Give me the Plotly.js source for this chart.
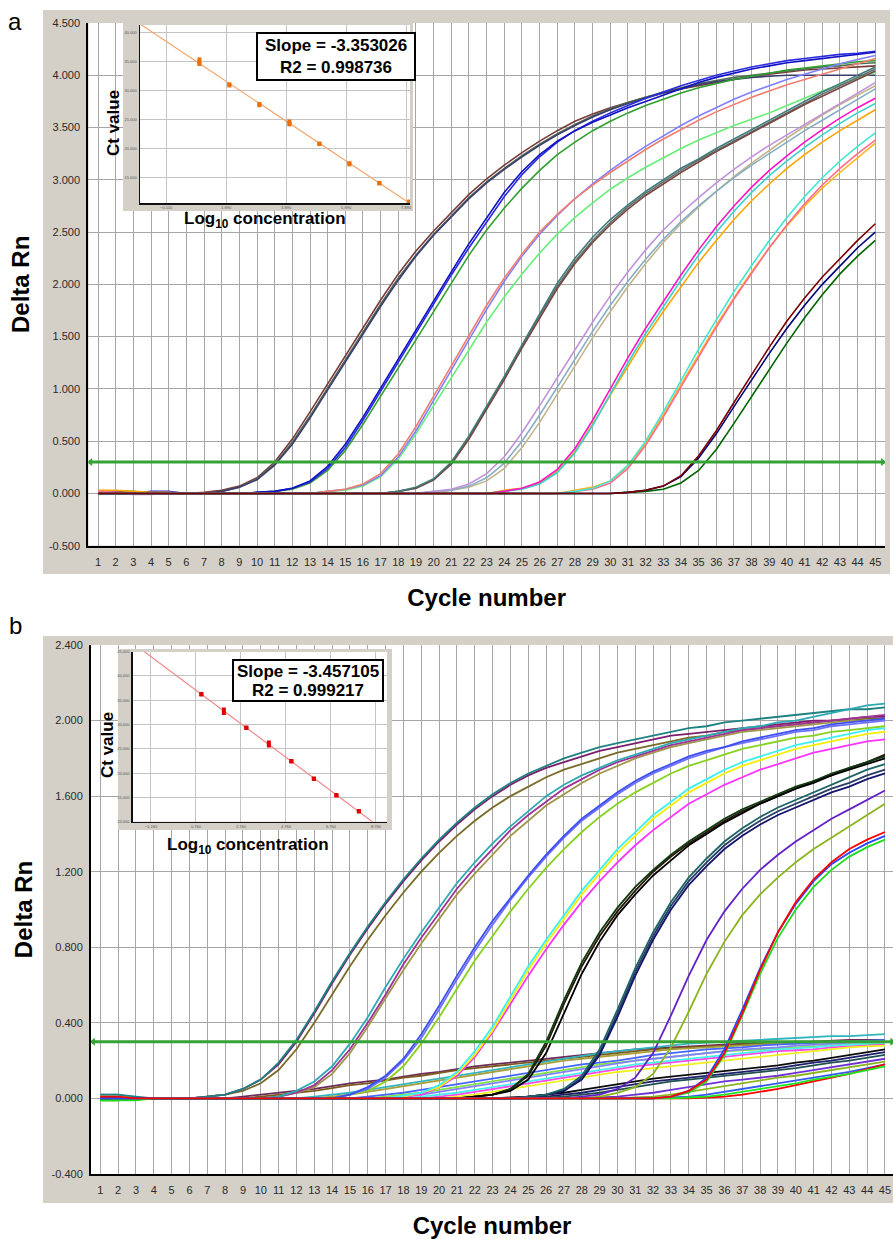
<!DOCTYPE html>
<html><head><meta charset="utf-8">
<script src="https://cdn.plot.ly/plotly-3.0.1.min.js"></script>
<style>html,body{margin:0;padding:0;background:#fff;overflow:hidden}#chart{width:893px;height:1239px}</style>
</head><body><div id="chart"></div>
<script>
// ---------------- DATA ----------------
const cycles = [1,2,3,4,5,6,7,8,9,10,11,12,13,14,15,16,17,18,19,20,21,22,23,24,25,26,27,28,29,30,31,32,33,34,35,36,37,38,39,40,41,42,43,44,45];
const thresholdA = 0.3;
const thresholdB = 0.3;
const yTickValsA = [-0.5,0,0.5,1,1.5,2,2.5,3,3.5,4,4.5];
const yTickTextA = ['-0.500','0.000','0.500','1.000','1.500','2.000','2.500','3.000','3.500','4.000','4.500'];
const yTickValsB = [-0.4,0,0.4,0.8,1.2,1.6,2.0,2.4];
const yTickTextB = ['-0.400','0.000','0.400','0.800','1.200','1.600','2.000','2.400'];

// Panel a amplification curves (Delta Rn per cycle)
const aBrown1 = [0.01,0.01,0,0,0,0,0.01,0.03,0.07,0.15,0.30,0.52,0.78,1.05,1.32,1.59,1.85,2.10,2.32,2.51,2.69,2.86,3.01,3.14,3.26,3.37,3.47,3.56,3.63,3.69,3.74,3.79,3.83,3.87,3.90,3.93,3.96,3.99,4.01,4.03,4.05,4.06,4.07,4.08,4.09];
const aSlate1 = [0,0,0,0,0,0,0,0.02,0.06,0.13,0.27,0.47,0.72,0.99,1.26,1.53,1.79,2.04,2.27,2.47,2.65,2.82,2.97,3.10,3.22,3.33,3.43,3.52,3.60,3.67,3.73,3.78,3.83,3.87,3.91,3.94,3.96,3.98,3.99,4.00,4.00,4.00,4.00,4.00,4.00];
const aGreen1 = [0,0.02,0.02,0,0,0,0,0.02,0.06,0.14,0.28,0.49,0.74,1.01,1.28,1.55,1.81,2.06,2.28,2.48,2.66,2.83,2.98,3.11,3.23,3.34,3.44,3.53,3.61,3.68,3.74,3.79,3.84,3.88,3.92,3.95,3.98,4.00,4.02,4.04,4.06,4.08,4.09,4.11,4.12];
const aBlue2 = [0,0,0,0,0,0,0,0,0,0.01,0.02,0.05,0.12,0.26,0.47,0.73,1.01,1.29,1.57,1.85,2.12,2.39,2.64,2.88,3.08,3.24,3.37,3.47,3.55,3.62,3.69,3.75,3.81,3.87,3.93,3.98,4.02,4.06,4.09,4.12,4.14,4.16,4.18,4.20,4.22];
const aBlueB2 = [0,0,0,0.02,0.02,0,0,0,0,0.01,0.02,0.05,0.11,0.24,0.44,0.70,0.98,1.26,1.54,1.82,2.09,2.35,2.60,2.84,3.05,3.22,3.36,3.47,3.56,3.64,3.71,3.78,3.84,3.90,3.95,4.00,4.04,4.08,4.11,4.14,4.16,4.18,4.20,4.21,4.23];
const aGreen2 = [0,0,0,0,0,0,0,0,0,0.01,0.02,0.04,0.10,0.22,0.41,0.66,0.93,1.20,1.47,1.74,2.01,2.28,2.52,2.73,2.92,3.09,3.24,3.36,3.47,3.56,3.64,3.71,3.77,3.83,3.88,3.92,3.96,3.99,4.02,4.05,4.07,4.09,4.11,4.13,4.14];
const aSalmon3 = [0,0,0,0,0,0,0,0,0,0,0,0,0,0.02,0.04,0.09,0.19,0.38,0.64,0.93,1.22,1.51,1.80,2.06,2.29,2.50,2.67,2.82,2.95,3.07,3.18,3.29,3.39,3.48,3.57,3.65,3.72,3.79,3.85,3.91,3.96,4.01,4.06,4.11,4.16];
const aPeri3 = [0,0,0,0,0,0,0,0,0,0,0,0,0,0.02,0.04,0.08,0.17,0.35,0.60,0.89,1.18,1.47,1.76,2.03,2.27,2.48,2.66,2.82,2.96,3.09,3.21,3.32,3.42,3.52,3.61,3.69,3.77,3.84,3.90,3.96,4.01,4.06,4.11,4.15,4.19];
const aLgreen3 = [0,0,0,0,0,0,0,0,0,0,0,0,0,0.02,0.03,0.07,0.16,0.33,0.57,0.84,1.11,1.38,1.64,1.88,2.10,2.30,2.48,2.64,2.78,2.91,3.02,3.12,3.21,3.30,3.38,3.45,3.52,3.58,3.64,3.71,3.78,3.85,3.91,3.97,4.03];
const aTeal4 = [0,0,0,0,0,0,0,0,0,0,0,0,0,0,0,0,0,0.02,0.06,0.14,0.30,0.55,0.83,1.12,1.42,1.72,2.01,2.25,2.45,2.62,2.76,2.89,3.00,3.11,3.20,3.30,3.39,3.48,3.57,3.66,3.75,3.84,3.92,4.00,4.08];
const aBrown4 = [0,0,0,0,0,0,0,0,0,0,0,0,0,0,0,0,0,0.02,0.05,0.13,0.28,0.52,0.80,1.09,1.39,1.68,1.96,2.20,2.40,2.57,2.72,2.85,2.96,3.07,3.17,3.27,3.36,3.45,3.54,3.63,3.72,3.80,3.88,3.96,4.04];
const aGray4 = [0,0,0,0,0,0,0,0,0,0,0,0,0,0,0,0,0,0.02,0.05,0.13,0.29,0.53,0.81,1.10,1.40,1.70,1.98,2.22,2.42,2.59,2.74,2.87,2.98,3.09,3.19,3.28,3.37,3.46,3.55,3.64,3.73,3.82,3.90,3.98,4.06];
const aLav5 = [0,0,-0.01,-0.01,0,0,0,0,0,0,0,0,0,0,0,0,0,0,0,0.02,0.04,0.09,0.19,0.35,0.58,0.84,1.11,1.38,1.64,1.89,2.12,2.33,2.52,2.68,2.83,2.97,3.10,3.22,3.33,3.43,3.53,3.63,3.73,3.83,3.93];
const aGb5 = [0,0,0,0,0,0,0,0,0,0,0,0,0,0,0,0,0,0,0,0.02,0.03,0.07,0.15,0.29,0.50,0.75,1.02,1.29,1.55,1.80,2.03,2.24,2.43,2.60,2.75,2.89,3.02,3.14,3.25,3.36,3.47,3.57,3.67,3.77,3.87];
const aTan5 = [0,0,0,0,0,0,0,0,0,0,0,0,0,0,0,0,0,0,0,0,0.03,0.06,0.12,0.24,0.44,0.68,0.95,1.22,1.49,1.74,1.98,2.20,2.40,2.58,2.74,2.89,3.03,3.16,3.28,3.40,3.51,3.62,3.72,3.81,3.90];
const aMag6 = [0.01,0.01,0,0,0,0,0,0,0,0,0,0,0,0,0,0,0,0,0,0,0,0,0,0.02,0.05,0.11,0.23,0.43,0.70,1.00,1.30,1.58,1.84,2.09,2.33,2.55,2.75,2.93,3.09,3.23,3.36,3.48,3.59,3.69,3.78];
const aTurq6 = [0,0,0,0,0,0,0,0,0,0,0,0,0,0,0,0,0,0,0,0,0,0,0,0.02,0.04,0.09,0.20,0.39,0.65,0.95,1.25,1.53,1.79,2.04,2.28,2.50,2.70,2.88,3.04,3.18,3.31,3.43,3.54,3.64,3.73];
const aOrange6 = [0.03,0.03,0.02,0.01,0.01,0,0,0,0,0,0,0,0,0,0,0,0,0,0,0,0,0,0,0.03,0.05,0.10,0.21,0.40,0.66,0.94,1.22,1.49,1.74,1.98,2.21,2.42,2.62,2.80,2.96,3.11,3.24,3.36,3.47,3.57,3.67];
const aTurq7 = [0,0,0,0,0,0,0,0,0,0,0,0,0,0,0,0,0,0,0,0,0,0,0,0,0,0,0,0.02,0.05,0.12,0.27,0.50,0.78,1.08,1.38,1.66,1.93,2.18,2.42,2.64,2.84,3.02,3.18,3.32,3.45];
const aPink7 = [0.02,0.01,0,0,0,0,0,0,0,0,0,0,0,0,0,0,0,0,0,0,0,0,0,0,0,0,0,0.02,0.04,0.10,0.24,0.46,0.73,1.02,1.31,1.59,1.86,2.11,2.35,2.57,2.77,2.95,3.11,3.25,3.38];
const aOrange7 = [0,0,0,0,0,0,0,0,0,0,0,0,0,0,0,0,0,0,0,0,0,0,0,0,0,0,0,0.03,0.06,0.12,0.26,0.48,0.75,1.04,1.33,1.61,1.87,2.12,2.35,2.56,2.75,2.92,3.07,3.21,3.35];
const aRed8 = [0,0,0,0,0,0,0,0,0,0,0,0,0,0,0,0,0,0,0,0,0,0,0,0,0,0,0,0,0,0,0.01,0.03,0.07,0.17,0.36,0.60,0.87,1.14,1.40,1.65,1.87,2.07,2.25,2.42,2.58];
const aNavy8 = [0,0,0,0,0,0,0,0,0,0,0,0,0,0,0,0,0,0,0,0,0,0,0,0,0,0,0,0,0,0,0.01,0.03,0.07,0.16,0.34,0.57,0.83,1.09,1.34,1.58,1.80,2.00,2.18,2.35,2.50];
const aGreen8 = [0,0,0,0,0,0,0,0,0,0,0,0,0,0,0,0,0,0,0,0,0,0,0,0,0,0,0,0,0,0,0.01,0.02,0.04,0.10,0.22,0.42,0.67,0.93,1.19,1.44,1.68,1.90,2.10,2.27,2.42];

// Panel b amplification curves
const bTeal1 = [0.02,0.02,0.01,0,0,0,0.01,0.02,0.05,0.10,0.19,0.31,0.46,0.62,0.77,0.91,1.04,1.16,1.27,1.37,1.46,1.54,1.61,1.67,1.72,1.76,1.80,1.83,1.86,1.88,1.90,1.92,1.94,1.96,1.97,1.99,2.00,2.01,2.02,2.03,2.04,2.05,2.06,2.06,2.07];
const bPurple1 = [0,0,0,0,0,0,0.01,0.02,0.05,0.10,0.18,0.30,0.45,0.61,0.76,0.90,1.03,1.15,1.26,1.36,1.45,1.53,1.60,1.66,1.71,1.75,1.78,1.81,1.84,1.86,1.88,1.90,1.92,1.93,1.94,1.95,1.96,1.97,1.98,1.99,2.00,2.00,2.01,2.02,2.02];
const bOlive1 = [0,0,0,0,0,0,0.01,0.02,0.04,0.08,0.15,0.26,0.40,0.55,0.70,0.84,0.97,1.09,1.20,1.30,1.39,1.47,1.54,1.60,1.65,1.70,1.74,1.77,1.80,1.83,1.85,1.87,1.89,1.91,1.92,1.94,1.95,1.96,1.97,1.98,1.99,2.00,2.00,2.01,2.01];
const bCyan2 = [0,0,0,0,0,0,0,0,0,0,0.01,0.04,0.09,0.17,0.29,0.43,0.59,0.74,0.88,1.01,1.14,1.25,1.35,1.44,1.52,1.60,1.66,1.71,1.75,1.79,1.82,1.85,1.88,1.90,1.92,1.94,1.96,1.97,1.99,2.00,2.02,2.04,2.06,2.08,2.09];
const bPurple2 = [0,0,0,0,0,0,0,0,0,0,0.01,0.03,0.07,0.15,0.26,0.40,0.55,0.71,0.85,0.98,1.11,1.22,1.32,1.42,1.50,1.57,1.64,1.69,1.74,1.78,1.81,1.84,1.87,1.89,1.91,1.93,1.95,1.96,1.97,1.98,1.99,2.00,2.01,2.02,2.03];
const bOlive2 = [0,0,0,0,0,0,0,0,0,0,0.01,0.03,0.06,0.13,0.24,0.38,0.53,0.68,0.82,0.95,1.08,1.19,1.29,1.39,1.47,1.55,1.61,1.67,1.72,1.76,1.80,1.83,1.86,1.88,1.90,1.92,1.94,1.95,1.96,1.97,1.98,1.99,2.00,2.00,2.01];
const bBlue3 = [0,0,0,0,0,0,0,0,0,0,0,0,0,0,0.02,0.06,0.12,0.21,0.34,0.49,0.65,0.80,0.94,1.06,1.18,1.29,1.39,1.48,1.55,1.62,1.68,1.73,1.77,1.81,1.84,1.86,1.89,1.91,1.93,1.95,1.96,1.98,1.99,2.00,2.01];
const bPeri3 = [0,0,0,0,0,0,0,0,0,0,0,0,0,0,0.02,0.05,0.11,0.20,0.32,0.47,0.63,0.78,0.92,1.05,1.17,1.28,1.38,1.47,1.54,1.61,1.67,1.72,1.76,1.80,1.83,1.86,1.88,1.90,1.92,1.94,1.95,1.97,1.98,1.99,2.00];
const bYg3 = [0,0,0,0,0,0,0,0,0,0,0,0,0,0,0.02,0.04,0.09,0.17,0.29,0.43,0.58,0.73,0.86,0.99,1.11,1.22,1.32,1.41,1.49,1.56,1.62,1.67,1.72,1.76,1.79,1.82,1.85,1.87,1.89,1.91,1.92,1.94,1.95,1.96,1.97];
const bCyan4 = [0,0,0,0,0,0,0,0,0,0,0,0,0,0,0,0,0,0.015,0.03,0.07,0.14,0.25,0.38,0.54,0.70,0.84,0.97,1.10,1.21,1.32,1.41,1.50,1.57,1.64,1.69,1.74,1.78,1.81,1.84,1.87,1.89,1.91,1.93,1.95,1.96];
const bYellow4 = [-0.01,-0.01,0,0,0,0,0,0,0,0,0,0,0,0,0,0,0,0.01,0.03,0.06,0.13,0.23,0.36,0.52,0.68,0.82,0.95,1.08,1.19,1.30,1.39,1.48,1.55,1.62,1.67,1.72,1.76,1.79,1.82,1.85,1.87,1.89,1.91,1.93,1.94];
const bMag4 = [0,0,0,0,0,0,0,0,0,0,0,0,0,0,0,0,0,0.01,0.02,0.06,0.12,0.22,0.35,0.50,0.65,0.79,0.92,1.04,1.15,1.25,1.34,1.42,1.49,1.56,1.61,1.66,1.70,1.74,1.77,1.80,1.83,1.85,1.87,1.89,1.90];
const bDkgreen5 = [0,0,0,0,0,0,0,0,0,0,0,0,0,0,0,0,0,0,0,0,0,0.01,0.02,0.05,0.13,0.30,0.52,0.72,0.88,1.01,1.12,1.21,1.29,1.36,1.42,1.48,1.53,1.57,1.61,1.65,1.68,1.72,1.75,1.78,1.81];
const bBlack5 = [0,0,0,0,0,0,0,0,0,0,0,0,0,0,0,0,0,0,0,0,0,0.01,0.02,0.04,0.10,0.24,0.45,0.66,0.83,0.97,1.08,1.18,1.26,1.34,1.40,1.46,1.51,1.56,1.60,1.64,1.67,1.71,1.74,1.77,1.80];
const bBrown5 = [0,0,0,0,0,0,0,0,0,0,0,0,0,0,0,0,0,0,0,0,0,0.01,0.02,0.05,0.12,0.28,0.50,0.70,0.86,0.99,1.10,1.20,1.28,1.35,1.41,1.47,1.52,1.56,1.60,1.64,1.68,1.71,1.75,1.78,1.82];
const bTeal6 = [0,0,0,0,0,0,0,0,0,0,0,0,0,0,0,0,0,0,0,0,0,0,0,0,0.01,0.02,0.05,0.12,0.26,0.47,0.69,0.88,1.04,1.17,1.27,1.36,1.43,1.49,1.54,1.58,1.62,1.66,1.70,1.74,1.77];
const bNavy6 = [0,0,0,0,0,0,0,0,0,0,0,0,0,0,0,0,0,0,0,0,0,0,0,0,0.01,0.02,0.04,0.10,0.23,0.43,0.65,0.84,1.00,1.13,1.23,1.32,1.39,1.45,1.50,1.54,1.58,1.62,1.65,1.69,1.72];
const bSlate6 = [0,0,0,0,0,0,0,0,0,0,0,0,0,0,0,0,0,0,0,0,0,0,0,0,0.01,0.02,0.04,0.11,0.24,0.45,0.67,0.86,1.02,1.15,1.25,1.34,1.41,1.47,1.52,1.56,1.60,1.64,1.67,1.71,1.74];
const bPurple7 = [0,0,0,0,0,0,0,0,0,0,0,0,0,0,0,0,0,0,0,0,0,0,0,0,0,0,0,0.01,0.02,0.05,0.11,0.24,0.44,0.65,0.84,0.99,1.11,1.21,1.29,1.36,1.42,1.48,1.53,1.58,1.63];
const bOlive7 = [0,0,0,0,0,0,0,0,0,0,0,0,0,0,0,0,0,0,0,0,0,0,0,0,0,0,0,0,0.01,0.03,0.06,0.13,0.27,0.46,0.66,0.83,0.97,1.08,1.17,1.25,1.32,1.38,1.44,1.50,1.56];
const bRed8 = [0.01,0.01,0,0,0,0,0,0,0,0,0,0,0,0,0,0,0,0,0,0,0,0,0,0,0,0,0,0,0,0,0,0,0.01,0.04,0.10,0.24,0.45,0.68,0.88,1.04,1.16,1.25,1.32,1.37,1.41];
const bBlue8 = [0,0,0,0,0,0,0,0,0,0,0,0,0,0,0,0,0,0,0,0,0,0,0,0,0,0,0,0,0,0,0,0,0.01,0.04,0.11,0.26,0.47,0.69,0.88,1.03,1.15,1.24,1.30,1.35,1.39];
const bGreen8 = [-0.01,-0.01,-0.01,0,0,0,0,0,0,0,0,0,0,0,0,0,0,0,0,0,0,0,0,0,0,0,0,0,0,0,0,0,0.01,0.03,0.09,0.23,0.44,0.66,0.85,1.00,1.12,1.21,1.28,1.33,1.37];

// Panel b slowly rising background curves
const bL1 = [0,0,0,0,0,0,0,0,0.01,0.02,0.03,0.04,0.05,0.065,0.08,0.09,0.10,0.115,0.13,0.14,0.155,0.17,0.18,0.19,0.20,0.21,0.22,0.23,0.24,0.25,0.26,0.265,0.27,0.275,0.28,0.285,0.29,0.29,0.295,0.30,0.30,0.305,0.31,0.31,0.31];
const bL2 = [0,0,0,0,0,0,0,0,0,0.01,0.02,0.03,0.04,0.055,0.07,0.08,0.095,0.11,0.12,0.135,0.15,0.16,0.17,0.18,0.19,0.20,0.21,0.22,0.23,0.24,0.25,0.26,0.265,0.27,0.275,0.28,0.285,0.29,0.29,0.295,0.30,0.30,0.30,0.305,0.31];
const bL3 = [0.02,0.02,0,0,0,0,0,0,0,0,0,0,0.01,0.02,0.03,0.045,0.06,0.075,0.09,0.105,0.12,0.135,0.15,0.165,0.18,0.195,0.21,0.225,0.24,0.25,0.26,0.27,0.28,0.29,0.295,0.30,0.305,0.31,0.315,0.32,0.325,0.33,0.33,0.335,0.34];
const bL4 = [0,0,0,0,0,0,0,0,0,0,0,0,0,0.01,0.02,0.035,0.05,0.065,0.08,0.095,0.11,0.125,0.14,0.155,0.17,0.185,0.20,0.21,0.22,0.23,0.24,0.25,0.26,0.265,0.27,0.275,0.28,0.285,0.29,0.29,0.295,0.30,0.30,0.30,0.305];
const bL5 = [0,0,0,0,0,0,0,0,0,0,0,0,0,0,0,0.01,0.02,0.03,0.045,0.06,0.075,0.09,0.105,0.12,0.135,0.15,0.165,0.18,0.19,0.20,0.215,0.23,0.24,0.25,0.26,0.265,0.27,0.28,0.285,0.29,0.295,0.30,0.30,0.305,0.31];
const bL6 = [0,0,0,0,0,0,0,0,0,0,0,0,0,0,0,0,0.01,0.02,0.03,0.045,0.06,0.075,0.09,0.105,0.12,0.135,0.15,0.165,0.18,0.19,0.20,0.21,0.22,0.23,0.24,0.25,0.255,0.26,0.265,0.27,0.275,0.28,0.285,0.285,0.29];
const bL7 = [0,0,0,0,0,0,0,0,0,0,0,0,0,0,0,0,0,0,0,0.01,0.02,0.035,0.05,0.065,0.08,0.095,0.11,0.125,0.14,0.155,0.17,0.18,0.19,0.20,0.21,0.22,0.23,0.24,0.25,0.255,0.26,0.27,0.275,0.28,0.285];
const bL8 = [0.01,0.01,0,0,0,0,0,0,0,0,0,0,0,0,0,0,0,0,0,0,0.01,0.02,0.035,0.05,0.065,0.08,0.095,0.11,0.125,0.14,0.15,0.16,0.17,0.18,0.19,0.20,0.21,0.22,0.23,0.24,0.25,0.26,0.27,0.275,0.28];
const bL9 = [0,0,0,0,0,0,0,0,0,0,0,0,0,0,0,0,0,0,0.01,0.02,0.03,0.045,0.06,0.075,0.09,0.105,0.12,0.135,0.15,0.165,0.18,0.19,0.20,0.21,0.22,0.23,0.24,0.25,0.26,0.265,0.27,0.28,0.285,0.29,0.295];
const bL10 = [-0.01,-0.01,0,0,0,0,0,0,0,0,0,0,0,0,0,0,0,0.01,0.02,0.035,0.05,0.065,0.08,0.095,0.11,0.125,0.14,0.155,0.17,0.185,0.20,0.21,0.22,0.23,0.24,0.25,0.26,0.265,0.27,0.28,0.285,0.29,0.295,0.30,0.30];
const bM1 = [0,0,0,0,0,0,0,0,0,0,0,0,0,0,0,0,0,0,0,0,0,0,0,0.005,0.01,0.02,0.03,0.045,0.06,0.075,0.09,0.105,0.115,0.125,0.135,0.145,0.155,0.165,0.175,0.19,0.20,0.215,0.23,0.245,0.26];
const bM2 = [0,0,0,0,0,0,0,0,0,0,0,0,0,0,0,0,0,0,0,0,0,0,0,0,0.005,0.01,0.02,0.03,0.045,0.06,0.075,0.09,0.10,0.11,0.12,0.13,0.14,0.15,0.16,0.175,0.19,0.20,0.215,0.23,0.245];
const bM3 = [0,0,0,0,0,0,0,0,0,0,0,0,0,0,0,0,0,0,0,0,0,0,0,0,0,0.005,0.01,0.02,0.03,0.045,0.06,0.075,0.09,0.10,0.11,0.12,0.13,0.14,0.15,0.16,0.175,0.19,0.20,0.215,0.23];
const bM4 = [0,0,0,0,0,0,0,0,0,0,0,0,0,0,0,0,0,0,0,0,0,0,0,0,0,0,0,0,0.005,0.01,0.02,0.03,0.045,0.06,0.075,0.09,0.10,0.11,0.12,0.135,0.15,0.165,0.18,0.195,0.21];
const bM5 = [0,0,0,0,0,0,0,0,0,0,0,0,0,0,0,0,0,0,0,0,0,0,0,0,0,0,0,0,0,0,0.005,0.01,0.02,0.035,0.05,0.065,0.08,0.095,0.11,0.12,0.135,0.15,0.165,0.18,0.195];
const bM6 = [0,0,0,0,0,0,0,0,0,0,0,0,0,0,0,0,0,0,0,0,0,0,0,0,0,0,0,0,0,0,0,0,0.005,0.01,0.02,0.035,0.05,0.065,0.08,0.095,0.11,0.125,0.14,0.16,0.18];
const bM7 = [0,0,0,0,0,0,0,0,0,0,0,0,0,0,0,0,0,0,0,0,0,0,0,0,0,0,0,0,0,0,0,0,0,0,0.005,0.01,0.02,0.035,0.05,0.07,0.09,0.11,0.13,0.155,0.18];
const bM8 = [-0.01,-0.01,0,0,0,0,0,0,0,0,0,0,0,0,0,0,0,0,0,0,0,0,0,0,0,0,0,0,0,0,0,0,0,0.005,0.01,0.02,0.035,0.05,0.065,0.08,0.10,0.115,0.13,0.15,0.17];

// Standard curve insets
const insetALogConc = [1,1,1,2,2,3,3,4,4,4,5,5,6,6,7,7,8,8];
const insetACt = [35.4,34.9,34.6,31.1,30.9,27.7,27.5,24.7,24.4,24.2,20.9,20.8,17.5,17.3,14.1,14.0,10.9,10.8];
const insetBLogConc = [1,1,2,2,3,3,4,4,5,5,6,6,7,7,8,8];
const insetBCt = [36.3,36.2,33.1,32.4,29.4,29.3,26.3,25.7,22.5,22.4,18.9,18.8,15.5,15.4,12.2,12.1];
const slopeLinesA = ['Slope = -3.353026', 'R2 = 0.998736'];
const slopeLinesB = ['Slope = -3.457105', 'R2 = 0.999217'];

// ---------------- BUILD ----------------
const W = 893, H = 1239;
const px = v => v / W;
const py = v => 1 - v / H;
const GRAY = '#d4d0c8';
const TICKFAM = "'Liberation Sans Narrow','Arial Narrow','Liberation Sans',Arial,sans-serif";
const SANS = "'Liberation Sans',Arial,Helvetica,sans-serif";

const rangeAx = [0.45, 45.55], rangeAy = [-0.5, 4.5];
const rangeBx = [0.48, 45.45], rangeBy = [-0.4, 2.4];
const rangeIAx = [-0.98, 8.02], rangeIAy = [10.64, 41.33];
const rangeIBx = [-2.05, 9.25], rangeIBy = [10, 45];

function lineTrace(vals, color, xa, ya, w) {
  return {type:'scatter', mode:'lines', x:cycles, y:vals, xaxis:xa, yaxis:ya,
    line:{color:color, width:w}, hoverinfo:'skip', showlegend:false};
}
function fitLine(xs, ys, xr) {
  const n = xs.length;
  const mx = xs.reduce((a,b)=>a+b,0)/n, my = ys.reduce((a,b)=>a+b,0)/n;
  let sxy = 0, sxx = 0;
  for (let i=0;i<n;i++){ sxy += (xs[i]-mx)*(ys[i]-my); sxx += (xs[i]-mx)*(xs[i]-mx); }
  const b = sxy/sxx, a = my - b*mx;
  return {x: xr.slice(), y: xr.map(v => a + b*v)};
}

const seriesA = [
  [aBrown1,'#7b3a3a'],[aGreen1,'#4f6e52'],[aSlate1,'#3b3d70'],
  [aGreen2,'#2ea02e'],[aBlueB2,'#2a2ae0'],[aBlue2,'#1010c4'],
  [aLgreen3,'#66ee77'],[aPeri3,'#8080ff'],[aSalmon3,'#f07f70'],
  [aGray4,'#607070'],[aBrown4,'#7a4640'],[aTeal4,'#3f7a7a'],
  [aTan5,'#c4b48c'],[aGb5,'#86aec4'],[aLav5,'#c092dc'],
  [aOrange6,'#ffa500'],[aTurq6,'#3cd2c8'],[aMag6,'#ff14c8'],
  [aOrange7,'#ffb41e'],[aPink7,'#ff6e8c'],[aTurq7,'#40e6d2'],
  [aGreen8,'#006400'],[aNavy8,'#000078'],[aRed8,'#7a0000']
];
const seriesBLow = [
  [bL1,'#6e2a5a'],[bL2,'#7a5a1e'],[bL3,'#30b4c0'],[bL4,'#a8a03c'],[bL5,'#4664ff'],
  [bL6,'#82e046'],[bL7,'#ff46e6'],[bL8,'#f0f01e'],[bL9,'#46f0f0'],[bL10,'#8282ff'],
  [bM1,'#0a0a0a'],[bM2,'#1e1e6e'],[bM3,'#1e5050'],[bM4,'#6e32d2'],[bM5,'#8cb41e'],
  [bM6,'#325af0'],[bM7,'#ff0000'],[bM8,'#1ee61e']
];
const seriesB = [
  [bOlive1,'#7a6a28'],[bPurple1,'#7a1e6e'],[bTeal1,'#1e8282'],
  [bOlive2,'#a0964a'],[bPurple2,'#a03296'],[bCyan2,'#2eaab4'],
  [bYg3,'#86d21e'],[bPeri3,'#7070ff'],[bBlue3,'#3c50f0'],
  [bMag4,'#ff32ff'],[bYellow4,'#f5f000'],[bCyan4,'#3cf0f0'],
  [bBrown5,'#2a1408'],[bDkgreen5,'#0f3a0f'],[bBlack5,'#000000'],
  [bSlate6,'#283c64'],[bNavy6,'#14146e'],[bTeal6,'#1e6464'],
  [bOlive7,'#8cb41e'],[bPurple7,'#6420c8'],
  [bGreen8,'#1edc1e'],[bBlue8,'#2846ff'],[bRed8,'#ff0000']
];

const traces = [];
seriesA.forEach(s => traces.push(lineTrace(s[0], s[1], 'x', 'y', 1.6)));
traces.push({type:'scatter', mode:'lines+markers', x:[rangeAx[0]+0.12, rangeAx[1]-0.12], y:[thresholdA, thresholdA],
  xaxis:'x', yaxis:'y', line:{color:'#36a336', width:3}, marker:{symbol:['triangle-left','triangle-right'], size:7, color:'#36a336'},
  hoverinfo:'skip', showlegend:false});
seriesBLow.forEach(s => traces.push(lineTrace(s[0], s[1], 'x2', 'y2', 1.8)));
seriesB.forEach(s => traces.push(lineTrace(s[0], s[1], 'x2', 'y2', 1.8)));
traces.push({type:'scatter', mode:'lines+markers', x:[rangeBx[0]+0.12, rangeBx[1]-0.05], y:[thresholdB, thresholdB],
  xaxis:'x2', yaxis:'y2', line:{color:'#36a336', width:3}, marker:{symbol:['triangle-left','triangle-right'], size:7, color:'#36a336'},
  hoverinfo:'skip', showlegend:false});
// frame a (empty), inset a
traces.push({type:'scatter', mode:'lines', x:[], y:[], xaxis:'x3', yaxis:'y3', hoverinfo:'skip', showlegend:false});
const fa = fitLine(insetALogConc, insetACt, rangeIAx);
traces.push({type:'scatter', mode:'lines', x:fa.x, y:fa.y, xaxis:'x4', yaxis:'y4', line:{color:'#f5a46a', width:1.2}, hoverinfo:'skip', showlegend:false});
traces.push({type:'scatter', mode:'markers', x:insetALogConc, y:insetACt, xaxis:'x4', yaxis:'y4',
  marker:{symbol:'square', size:4, color:'#e8700f'}, hoverinfo:'skip', showlegend:false});
// frame b (empty), inset b
traces.push({type:'scatter', mode:'lines', x:[], y:[], xaxis:'x5', yaxis:'y5', hoverinfo:'skip', showlegend:false});
const fb = fitLine(insetBLogConc, insetBCt, rangeIBx);
traces.push({type:'scatter', mode:'lines', x:fb.x, y:fb.y, xaxis:'x6', yaxis:'y6', line:{color:'#f08a8a', width:1.2}, hoverinfo:'skip', showlegend:false});
traces.push({type:'scatter', mode:'markers', x:insetBLogConc, y:insetBCt, xaxis:'x6', yaxis:'y6',
  marker:{symbol:'square', size:4, color:'#e00000'}, hoverinfo:'skip', showlegend:false});

const tickFont = {family:TICKFAM, size:11, color:'#2a2a2a'};
const titleFont = {family:SANS, size:24, color:'#000'};
function mainX(domain, range, anchor) {
  return {domain:domain, range:range, anchor:anchor, tickvals:cycles, ticktext:cycles.map(String),
    showgrid:true, gridcolor:'#a6a6a6', gridwidth:1, zeroline:false, showline:true, linecolor:'#000', linewidth:2,
    ticks:'', ticklabelstandoff:5, tickfont:tickFont, fixedrange:true,
    title:{text:'<b>Cycle number</b>', font:titleFont, standoff:22}};
}
function mainY(domain, range, vals, text, anchor) {
  return {domain:domain, range:range, anchor:anchor, tickvals:vals, ticktext:text,
    showgrid:true, gridcolor:'#a6a6a6', gridwidth:1, zeroline:false, showline:true, linecolor:'#000', linewidth:2,
    ticks:'', ticklabelstandoff:4, tickfont:tickFont, fixedrange:true,
    title:{text:'<b>Delta Rn</b>', font:titleFont, standoff:12}};
}
const insetTick = {family:SANS, size:4, color:'#555'};
function insetX(domain, range, anchor, tick0) {
  return {domain:domain, range:range, anchor:anchor, tick0:tick0, dtick:2, tickformat:'.3f',
    showgrid:true, gridcolor:'#c4c4c4', gridwidth:1, zeroline:false, showline:true, linecolor:'#111', linewidth:1.5,
    ticks:'', ticklabelstandoff:0, tickfont:insetTick, fixedrange:true};
}
function insetY(domain, range, anchor) {
  return {domain:domain, range:range, anchor:anchor, tick0:0, dtick:5, tickformat:'.3f',
    showgrid:true, gridcolor:'#c4c4c4', gridwidth:1, zeroline:false, showline:true, linecolor:'#111', linewidth:1.5,
    ticks:'', ticklabelstandoff:1, tickfont:insetTick, fixedrange:true};
}
const hidden = (domain, anchor) => ({domain:domain, range:[0,1], anchor:anchor, visible:false, showticklabels:false, showgrid:false, fixedrange:true});

const insetTitleFont = {family:SANS, size:17, color:'#000'};
function textAnn(x, y, text, size, angle) {
  return {xref:'paper', yref:'paper', x:px(x), y:py(y), text:text, showarrow:false, xanchor:'center', yanchor:'middle',
    textangle:angle || 0, font:{family:SANS, size:size, color:'#000'}};
}
function boxShape(x0, y0, x1, y1) {
  return {type:'rect', xref:'paper', yref:'paper', x0:px(x0), x1:px(x1), y0:py(y1), y1:py(y0),
    fillcolor:'#ffffff', line:{color:'#000', width:2}, layer:'above'};
}

const layout = {
  width:W, height:H, margin:{l:0,r:0,t:0,b:0}, paper_bgcolor:'#ffffff', plot_bgcolor:GRAY,
  showlegend:false, hovermode:false,
  xaxis: mainX([px(88.3), px(885)], rangeAx, 'y'),
  yaxis: mainY([py(545.7), py(23)], rangeAy, yTickValsA, yTickTextA, 'x'),
  xaxis2: mainX([px(91), 1], rangeBx, 'y2'),
  yaxis2: mainY([py(1174), py(645)], rangeBy, yTickValsB, yTickTextB, 'x2'),
  xaxis3: hidden([px(123), px(413)], 'y3'),
  yaxis3: hidden([py(211), py(23)], 'x3'),
  xaxis4: insetX([px(140), px(410)], rangeIAx, 'y4', -0.11),
  yaxis4: insetY([py(203), py(25)], rangeIAy, 'x4'),
  xaxis5: hidden([px(118), px(392)], 'y5'),
  yaxis5: hidden([py(830), py(649)], 'x5'),
  xaxis6: insetX([px(132.7), px(387)], rangeIBx, 'y6', 0.76),
  yaxis6: insetY([py(821.7), py(651.7)], rangeIBy, 'x6'),
  shapes: [
    {type:'rect', xref:'paper', yref:'paper', x0:px(43), x1:px(890), y0:py(574), y1:py(10), fillcolor:GRAY, line:{width:0}, layer:'below'},
    {type:'rect', xref:'paper', yref:'paper', x0:px(43), x1:1, y0:py(1203), y1:py(636), fillcolor:GRAY, line:{width:0}, layer:'below'},
    {type:'rect', xref:'x', yref:'y', x0:rangeAx[0], x1:rangeAx[1], y0:rangeAy[0], y1:rangeAy[1], fillcolor:'#ffffff', line:{width:0}, layer:'below'},
    {type:'rect', xref:'x2', yref:'y2', x0:rangeBx[0], x1:rangeBx[1], y0:rangeBy[0], y1:rangeBy[1], fillcolor:'#ffffff', line:{width:0}, layer:'below'},
    {type:'rect', xref:'x4', yref:'y4', x0:rangeIAx[0], x1:rangeIAx[1], y0:rangeIAy[0], y1:rangeIAy[1], fillcolor:'#ffffff', line:{width:0}, layer:'below'},
    {type:'rect', xref:'x6', yref:'y6', x0:rangeIBx[0], x1:rangeIBx[1], y0:rangeIBy[0], y1:rangeIBy[1], fillcolor:'#ffffff', line:{width:0}, layer:'below'},
    boxShape(257, 33, 415, 80),
    boxShape(233, 660, 383, 701)
  ],
  annotations: [
    textAnn(15, 22, 'a', 24),
    textAnn(15, 625, 'b', 24),
    textAnn(336, 46, '<b>'+slopeLinesA[0]+'</b>', 17),
    textAnn(336, 67, '<b>'+slopeLinesA[1]+'</b>', 17),
    textAnn(308, 671, '<b>'+slopeLinesB[0]+'</b>', 17),
    textAnn(308, 690, '<b>'+slopeLinesB[1]+'</b>', 17),
    textAnn(113, 123, '<b>Ct value</b>', 17, -90),
    textAnn(265, 220, '<b>Log<sub>10</sub> concentration</b>', 17),
    textAnn(108, 745, '<b>Ct value</b>', 17, -90),
    textAnn(248, 846, '<b>Log<sub>10</sub> concentration</b>', 17)
  ]
};

Plotly.newPlot('chart', traces, layout, {staticPlot:true, displayModeBar:false});
</script>
</body></html>
